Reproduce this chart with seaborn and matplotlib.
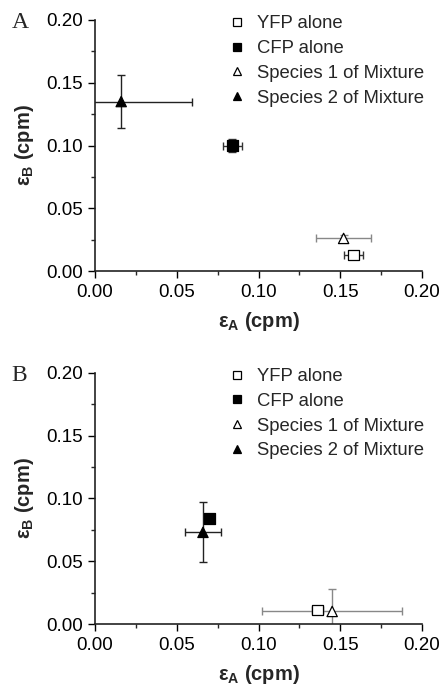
import pandas as pd
import matplotlib
matplotlib.use("Agg")
import matplotlib.pyplot as plt
from matplotlib.ticker import MultipleLocator, FormatStrFormatter
from matplotlib.lines import Line2D
import seaborn as sns


SERIES = ["YFP alone", "CFP alone", "Species 1 of Mixture", "Species 2 of Mixture"]

# panel A
A_X = [0.158, 0.084, 0.152, 0.016]
A_Y = [0.013, 0.100, 0.026, 0.135]
A_XERR = [0.006, 0.006, 0.017, 0.043]
A_YERR = [0.003, 0.0055, 0.003, 0.021]

# panel B
B_X = [0.136, 0.070, 0.145, 0.066]
B_Y = [0.011, 0.084, 0.010, 0.073]
B_XERR = [0.0035, 0.002, 0.043, 0.011]
B_YERR = [0.002, 0.002, 0.018, 0.024]

MARKERS = {"YFP alone": "s", "CFP alone": "s",
           "Species 1 of Mixture": "^", "Species 2 of Mixture": "^"}
FACES = {"YFP alone": "white", "CFP alone": "black",
         "Species 1 of Mixture": "white", "Species 2 of Mixture": "black"}
ERR_COLORS = {"YFP alone": "#333333", "CFP alone": "#333333",
              "Species 1 of Mixture": "#888888", "Species 2 of Mixture": "#222222"}

sns.set_style("ticks")
plt.rcParams["font.family"] = ["Liberation Sans", "DejaVu Sans"]
plt.rcParams["mathtext.fontset"] = "custom"
plt.rcParams["mathtext.rm"] = "Liberation Sans"
plt.rcParams["mathtext.bf"] = "Liberation Sans:bold"
plt.rcParams["mathtext.it"] = "Liberation Sans:italic"


def draw_panel(ax, xs, ys, xerr, yerr, letter):
    df = pd.DataFrame({"series": SERIES, "x": xs, "y": ys,
                       "xerr": xerr, "yerr": yerr})
    for _, row in df.iterrows():
        ax.errorbar(row["x"], row["y"], xerr=row["xerr"], yerr=row["yerr"],
                    fmt="none", ecolor=ERR_COLORS[row["series"]],
                    elinewidth=1.0, capsize=3, capthick=1.0, zorder=2)
    sns.scatterplot(data=df, x="x", y="y", style="series", markers=MARKERS,
                    hue="series", palette=FACES, edgecolor="black",
                    linewidth=0.9, s=55, ax=ax, legend=False, zorder=3)

    ax.set_xlim(0, 0.2)
    ax.set_ylim(0, 0.2)
    ax.xaxis.set_major_locator(MultipleLocator(0.05))
    ax.yaxis.set_major_locator(MultipleLocator(0.05))
    ax.xaxis.set_minor_locator(MultipleLocator(0.025))
    ax.yaxis.set_minor_locator(MultipleLocator(0.025))
    ax.xaxis.set_major_formatter(FormatStrFormatter("%.2f"))
    ax.yaxis.set_major_formatter(FormatStrFormatter("%.2f"))
    ax.tick_params(which="major", direction="out", length=5, width=1,
                   labelsize=13.5, colors="black", pad=4)
    ax.tick_params(which="minor", direction="out", length=3, width=1)
    for side in ["left", "bottom"]:
        ax.spines[side].set_linewidth(1.2)
        ax.spines[side].set_color("#222222")
    sns.despine(ax=ax)

    ax.set_xlabel(r"ε$_\mathbf{A}$ (cpm)", fontsize=14.5,
                  fontweight="bold", labelpad=7)
    ax.set_ylabel(r"ε$_\mathbf{B}$ (cpm)", fontsize=14.5,
                  fontweight="bold", labelpad=7)

    handles = [Line2D([], [], linestyle="none", marker=MARKERS[s],
                      markerfacecolor=FACES[s], markeredgecolor="black",
                      markersize=6, markeredgewidth=0.9) for s in SERIES]
    ax.legend(handles, SERIES, loc="upper right", bbox_to_anchor=(1.058, 1.085),
              frameon=False, fontsize=13.3, handletextpad=0.5,
              labelspacing=0.42, handlelength=1.2)

    ax.text(-0.255, 0.99, letter, transform=ax.transAxes, fontsize=17,
            family="Liberation Serif", va="center", ha="left")


fig = plt.figure(figsize=(4.42, 6.88), dpi=100)
ax_a = fig.add_axes([0.215, 0.606, 0.740, 0.365])
ax_b = fig.add_axes([0.215, 0.093, 0.740, 0.365])

draw_panel(ax_a, A_X, A_Y, A_XERR, A_YERR, "A")
draw_panel(ax_b, B_X, B_Y, B_XERR, B_YERR, "B")

fig.savefig("out.png", dpi=100)
